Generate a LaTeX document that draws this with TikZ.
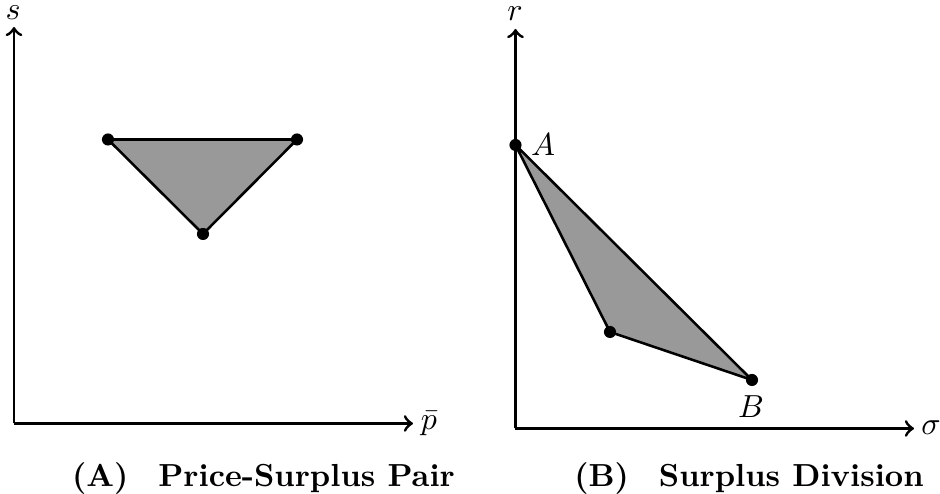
\documentclass[tikz,border=0pt]{standalone}
\begin{document}
\begin{tikzpicture}[x=0.3135pt,y=-0.3135pt,
  axis/.style={line width=0.94pt,->},
  region/.style={draw=black,line width=0.8pt,fill=black!40,line join=round},
  dot/.style={circle,fill=black,inner sep=0pt,minimum size=3.8pt},
  lab/.style={inner sep=0pt},
  captext/.style={anchor=base,font=\bfseries}]
\useasboundingbox (0,0) rectangle (940,494);
% left panel
\coordinate (O1) at (14,423.5);
\coordinate (Y1) at (14,27);
\coordinate (X1) at (413,423.5);
\draw[axis] (O1) -- (Y1);
\draw[axis] (O1) -- (X1);
\node[lab] (s) at (13,13) {$s$};
\node[lab] (pb) at (429,424) {$\bar{p}$};
\coordinate (T1) at (108,139.5);
\coordinate (T2) at (297,139.5);
\coordinate (T3) at (203,234);
\draw[region] (T1) -- (T2) -- (T3) -- cycle;
\node[dot] (d1) at (T1) {};
\node[dot] (d2) at (T2) {};
\node[dot] (d3) at (T3) {};
% right panel
\coordinate (O2) at (515.5,428.5);
\coordinate (Y2) at (515.5,29);
\coordinate (X2) at (914,428.5);
\draw[axis] (O2) -- (Y2);
\draw[axis] (O2) -- (X2);
\node[lab] (r) at (515,14) {$r$};
\node[lab] (sg) at (931,428) {$\sigma$};
\coordinate (PA) at (515.5,145);
\coordinate (PM) at (610,332);
\coordinate (PB) at (752,380);
\draw[region] (PA) -- (PM) -- (PB) -- cycle;
\node[dot] (dA) at (PA) {};
\node[dot] (dM) at (PM) {};
\node[dot] (dB) at (PB) {};
\node[lab] (lA) at (543,145) {$A$};
\node[lab] (lB) at (751,407) {$B$};
% captions
\node[captext] (c1) at (263.5,486.5) {(A)\hspace{9.4pt}Price-Surplus Pair};
\node[captext] (c2) at (749,486.5) {(B)\hspace{9.4pt}Surplus Division};
\end{tikzpicture}
\end{document}
